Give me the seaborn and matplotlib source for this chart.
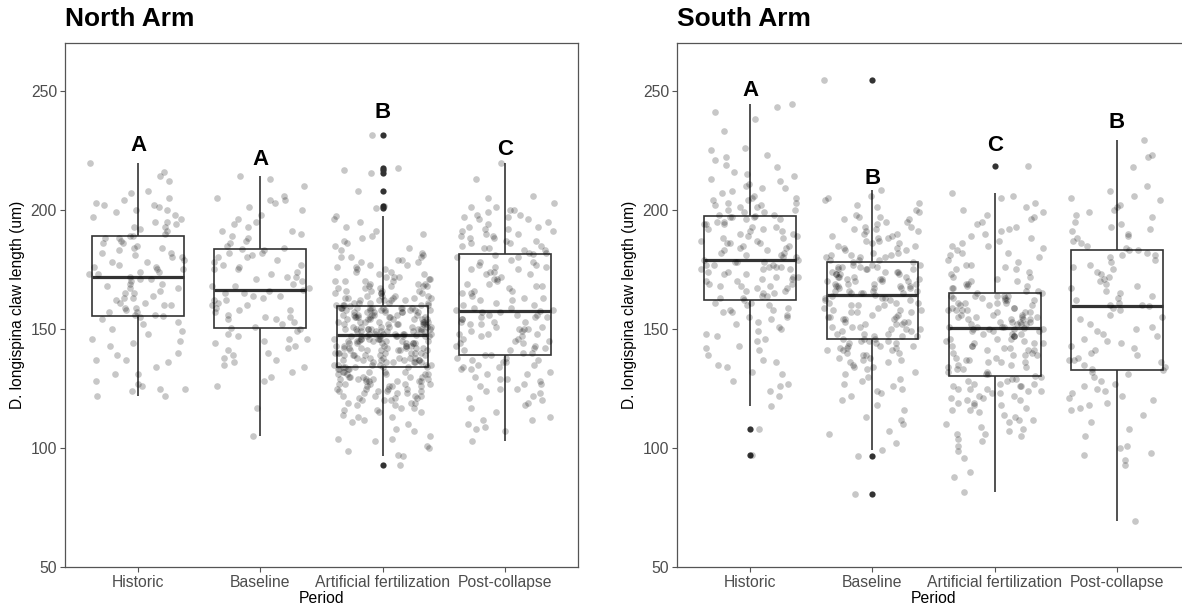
import numpy as np
import pandas as pd
import matplotlib
matplotlib.use("Agg")
import matplotlib.pyplot as plt
import seaborn as sns

periods = ["Historic", "Baseline", "Artificial fertilization", "Post-collapse"]

# ---------------- North Arm (claw length, um) ----------------
north_historic = [
    121.7, 122, 124, 125, 125, 126, 127, 128, 131, 131, 134, 136, 137, 137, 139, 140, 143, 144,
    145, 146, 148, 149, 150, 152, 153, 154, 155,
    155.5,
    156, 156, 157, 157, 158, 159, 159, 160, 160, 161, 161, 162, 163, 163, 164, 165, 165, 166,
    167, 167, 168, 169, 169, 170, 171, 171,
    172.0,
    173, 173, 174, 174, 175, 175, 176, 176, 177, 178, 178, 179, 180, 180, 181, 182, 182, 183,
    184, 184, 185, 186, 186, 187, 188, 188,
    188.9,
    189, 190, 191, 192, 193, 193, 194, 195, 195, 196, 197, 198, 199, 200, 200, 201, 202, 202,
    203, 204, 205, 207, 208, 214, 212, 216, 219.7,
]
north_baseline = [
    105.2, 117, 126, 128, 130, 132, 134, 135, 136, 137, 138, 139, 140, 141, 142, 143, 144, 145,
    146, 146, 147, 148, 149, 150,
    150.4,
    151, 152, 153, 154, 154, 155, 155, 156, 157, 158, 158, 159, 160, 160, 161, 162, 162, 163,
    164, 164, 165, 165, 166,
    166.5,
    167, 168, 168, 169, 170, 171, 172, 172, 173, 174, 175, 175, 176, 177, 177, 178, 179, 180,
    180, 181, 182, 182, 183,
    183.6,
    184, 185, 186, 187, 188, 189, 190, 191, 191, 193, 194, 195, 196, 198, 200, 201, 203, 204,
    204, 205, 206, 210, 213, 214.4,
]
north_artificial = [
    93.0, 96.8, 97, 99, 100, 101, 103, 104, 104, 105, 107, 108,
    110, 111, 112, 113, 113, 114, 115, 115, 116, 116, 117, 117, 118, 118, 119, 119, 119, 120,
    120, 120, 121, 121, 121, 122, 122, 122, 122, 123, 123, 123,
    124, 124, 124, 124, 125, 125, 125, 125, 126, 126, 126, 126, 127, 127, 127, 127, 127, 128,
    128, 128, 128, 128, 129, 129, 129, 129, 129, 130, 130, 130, 130, 130, 131, 131, 131, 131,
    131, 132, 132, 132, 132, 132, 133, 133, 133, 133, 134, 134,
    134.0,
    134, 134, 134, 135, 135, 135, 135, 135, 135, 136, 136, 136, 136, 136, 136, 137, 137, 137,
    137, 137, 137, 138, 138, 138, 138, 138, 138, 139, 139, 139, 139, 139, 139, 140, 140, 140,
    140, 140, 140, 140, 141, 141, 141, 141, 141, 141, 142, 142, 142, 142, 142, 142, 142, 143,
    143, 143, 143, 143, 143, 144, 144, 144, 144, 144, 144, 144, 145, 145, 145, 145, 145, 145,
    145, 146, 146, 146, 146, 146, 146, 146, 147, 147, 147, 147, 147, 147, 147, 147, 147,
    147.3,
    148, 148, 148, 148, 148, 148, 148, 149, 149, 149, 149, 149, 149, 149, 149, 150, 150, 150,
    150, 150, 150, 150, 150, 151, 151, 151, 151, 151, 151, 151, 152, 152, 152, 152, 152, 152,
    152, 153, 153, 153, 153, 153, 153, 153, 154, 154, 154, 154, 154, 154, 154, 155, 155, 155,
    155, 155, 155, 155, 156, 156, 156, 156, 156, 156, 156, 157, 157, 157, 157, 157, 157, 157,
    158, 158, 158, 158, 158, 158, 158, 159, 159, 159, 159, 159, 159, 159, 159, 159, 159,
    159.5,
    160, 160, 160, 160, 160, 161, 161, 161, 161, 161, 162, 162, 162, 162, 162, 163, 163, 163,
    163, 163, 164, 164, 164, 164, 165, 165, 165, 165, 166, 166, 166, 166, 167, 167, 167, 168,
    168, 168, 168, 169, 169, 169, 170, 170, 170, 170,
    171, 171, 172, 172, 172, 173, 173, 174, 174, 175, 175, 176, 176, 177, 177, 178, 178, 179,
    179, 180, 180, 180, 181, 182,
    183, 184, 185, 186, 187, 188, 189, 190, 191, 193, 195, 196, 197.3,
    200.8, 201.8, 208.1, 215.5, 216.6, 217.6, 231.6,
]
north_post = [
    103.2, 107, 108, 109, 110, 112, 112, 113, 115, 117, 118, 119, 120, 121, 122, 123, 124, 125,
    125, 126, 127, 127, 128, 129, 129, 130, 131, 131, 132, 133, 133, 134, 134, 135, 135, 136,
    136, 137, 137, 138, 138, 139,
    139.1,
    140, 140, 141, 141, 142, 142, 143, 143, 144, 144, 145, 145, 146, 146, 147, 147, 148, 148,
    148, 149, 149, 150, 150, 150, 151, 151, 152, 152, 153, 153, 153, 154, 154, 155, 155, 155,
    156, 156, 156, 157, 157,
    157.6,
    158, 158, 159, 159, 160, 160, 161, 162, 162, 163, 163, 164, 165, 165, 166, 166, 167, 168,
    168, 169, 169, 170, 171, 171, 172, 173, 173, 174, 174, 175, 175, 176, 176, 177, 177, 178,
    178, 179, 180, 180, 181,
    181.6,
    182, 182, 183, 183, 184, 184, 185, 185, 186, 186, 187, 187, 188, 188, 189, 189, 190, 190,
    191, 191, 192, 192, 193, 193, 194, 195, 196, 196, 197, 197, 198, 198, 199, 200, 200, 201,
    201, 203, 205, 206, 213, 219.5,
]

# ---------------- South Arm (claw length, um) ----------------
south_historic = [
    97.2, 108.0, 117.8, 122, 124, 126, 127, 128, 131, 132, 134, 135, 136, 137, 139, 141, 142,
    143, 145, 146, 147, 148, 149, 150, 151, 152, 153, 154, 155, 155, 156, 157, 157, 158, 158,
    159, 160, 160, 161, 161,
    162.0,
    163, 163, 164, 164, 165, 165, 166, 166, 167, 167, 168, 168, 168, 169, 169, 170, 170, 171,
    171, 172, 172, 172, 173, 173, 174, 174, 175, 175, 175, 176, 176, 176, 177, 177, 177, 178,
    178, 178, 179,
    179.0,
    180, 180, 181, 181, 182, 182, 183, 183, 184, 184, 185, 185, 186, 186, 186, 187, 187, 188,
    188, 189, 189, 190, 190, 191, 191, 192, 192, 193, 193, 194, 194, 194, 195, 195, 196, 196,
    197, 197, 197,
    197.6,
    198, 198, 199, 199, 200, 200, 201, 201, 202, 202, 203, 203, 204, 204, 205, 205, 206, 207,
    208, 209, 209, 210, 211, 212, 213, 214, 215, 216, 218, 219, 221, 222, 223, 225, 226, 233,
    238, 241, 243, 244.5,
]
south_baseline = [
    80.8, 96.8, 99.3, 102, 106, 107, 110, 112, 113, 116, 118, 120, 122, 123, 124, 125, 126,
    127, 128, 129, 130, 131, 132, 133, 134, 134, 135, 136, 136, 137, 137, 138, 138, 139, 139,
    140, 140, 141, 141, 141, 142, 142, 142, 143, 143, 143, 144, 144, 144, 145, 145, 145,
    145.8,
    146, 146, 147, 147, 147, 148, 148, 148, 149, 149, 150, 150, 150, 151, 151, 151, 152, 152,
    152, 153, 153, 153, 154, 154, 154, 155, 155, 155, 156, 156, 157, 157, 157, 158, 158, 158,
    159, 159, 160, 160, 160, 161, 161, 161, 162, 162, 162, 163, 163, 163, 164,
    164.3,
    165, 165, 165, 165, 166, 166, 166, 166, 167, 167, 167, 167, 168, 168, 168, 168, 169, 169,
    169, 169, 170, 170, 170, 170, 171, 171, 171, 171, 172, 172, 172, 172, 173, 173, 173, 173,
    174, 174, 174, 174, 175, 175, 175, 175, 176, 176, 176, 176, 177, 177, 177,
    178.0,
    178, 179, 179, 179, 180, 180, 180, 181, 181, 181, 182, 182, 183, 183, 184, 184, 185, 185,
    186, 186, 187, 187, 188, 188, 189, 189, 190, 190, 191, 191, 192, 192, 193, 193, 194, 195,
    195, 196, 196, 197, 197, 198, 199, 200, 201, 202, 203, 204, 205, 206, 208.2, 254.4,
]
south_artificial = [
    81.8, 88, 90, 96, 99, 101, 103, 104, 105, 106, 106, 107, 108, 109, 110, 111, 112, 112, 113,
    114, 115, 116, 116, 117, 118, 118, 119, 119, 120, 120, 121, 121, 122, 122, 123, 123, 124,
    124, 125, 125, 125, 126, 126, 126, 127, 127, 127, 128, 128, 129, 129, 130,
    130.1,
    131, 131, 132, 132, 133, 133, 134, 134, 135, 135, 136, 136, 136, 137, 137, 138, 138, 139,
    139, 139, 140, 140, 141, 141, 141, 142, 142, 143, 143, 143, 144, 144, 144, 145, 145, 146,
    146, 146, 147, 147, 147, 148, 148, 148, 149, 149, 149, 150, 150, 150, 150,
    150.5,
    151, 151, 151, 151, 152, 152, 152, 152, 153, 153, 153, 153, 154, 154, 154, 154, 155, 155,
    155, 155, 156, 156, 156, 157, 157, 157, 158, 158, 158, 158, 159, 159, 159, 160, 160, 160,
    161, 161, 161, 161, 162, 162, 162, 163, 163, 163, 164, 164, 164, 164, 164,
    165.0,
    165, 166, 166, 167, 167, 168, 168, 169, 169, 170, 170, 171, 172, 172, 173, 174, 175, 175,
    176, 177, 177, 178, 179, 180, 181, 182, 182, 183, 184, 185, 185, 186, 187, 188, 189, 190,
    191, 192, 193, 194, 195, 196, 197, 198, 199, 200, 201, 203, 205, 206, 207.1, 218.2,
]
south_post = [
    69.6, 93, 95, 97, 98, 100, 101, 105, 108, 111, 114, 116, 117, 118, 119, 120, 121, 122, 123,
    124, 125, 126, 127, 128, 130, 131, 132,
    132.9,
    133, 134, 135, 136, 137, 137, 138, 139, 140, 141, 142, 143, 144, 145, 146, 147, 148, 149,
    150, 151, 152, 154, 155, 156, 158, 159,
    159.5,
    160, 160, 161, 162, 163, 164, 165, 166, 167, 168, 169, 170, 171, 172, 173, 174, 175, 176,
    177, 178, 179, 180, 181, 181, 182, 183,
    183.3,
    184, 185, 186, 187, 188, 189, 190, 191, 192, 193, 194, 195, 197, 198, 199, 200, 201, 202,
    204, 205, 206, 208, 210, 218, 222, 223, 229.1,
]

# significance letters and the height (um) where each is written
north_letters = ["A", "A", "B", "C"]
north_letter_y = [224.6, 219.0, 238.7, 223.2]
south_letters = ["A", "B", "C", "B"]
south_letter_y = [247.7, 211.0, 224.6, 234.4]


def frame(groups):
    return pd.DataFrame({
        "Period": np.repeat(periods, [len(g) for g in groups]),
        "Length": np.concatenate([np.asarray(g, float) for g in groups]),
    })


north_df = frame([north_historic, north_baseline, north_artificial, north_post])
south_df = frame([south_historic, south_baseline, south_artificial, south_post])

sns.set_theme(style="white")
plt.rcParams["font.family"] = ["Liberation Sans", "DejaVu Sans"]

W, H = 1182, 608
fig = plt.figure(figsize=(W / 100, H / 100), dpi=100)
ax_bottom = (H - 567.3) / H
ax_height = (567.3 - 43) / H
ax_width = 513.6 / W
axN = fig.add_axes([64.7 / W, ax_bottom, ax_width, ax_height])
axS = fig.add_axes([676.7 / W, ax_bottom, ax_width, ax_height])

line_c = "#333333"
np.random.seed(7)


def panel(ax, df, letters, letter_y, title):
    sns.boxplot(data=df, x="Period", y="Length", order=periods, ax=ax, width=0.75,
                whis=1.5, color="white", linecolor=line_c, linewidth=1.2, saturation=1,
                showcaps=False,
                medianprops=dict(linewidth=2.3, color=line_c),
                flierprops=dict(marker="o", markersize=4.5, markerfacecolor=line_c,
                                markeredgecolor="none"))
    sns.stripplot(data=df, x="Period", y="Length", order=periods, ax=ax, jitter=0.4,
                  color="black", alpha=0.22, size=4.8, linewidth=0, zorder=4)
    for i, (lab, yv) in enumerate(zip(letters, letter_y)):
        ax.text(i, yv, lab, ha="center", va="baseline", fontsize=16,
                fontweight="bold", color="black")
    ax.set_xlim(-0.6, 3.6)
    ax.set_ylim(50, 270)
    ax.set_yticks([50, 100, 150, 200, 250])
    for s in ax.spines.values():
        s.set_visible(True)
        s.set_color("#555555")
        s.set_linewidth(0.9)
    ax.tick_params(axis="both", direction="out", length=3.5, width=0.8, color="#555555",
                   labelcolor="#4d4d4d", labelsize=11.3, pad=2, bottom=True, left=True)
    ax.set_xlabel("Period", fontsize=11.3, color="black", labelpad=1)
    ax.set_ylabel("D. longispina claw length (um)", fontsize=11.2, color="black", labelpad=4)
    ax.set_title(title, loc="left", fontsize=19, fontweight="bold", pad=12, color="black")


panel(axN, north_df, north_letters, north_letter_y, "North Arm")
panel(axS, south_df, south_letters, south_letter_y, "South Arm")

fig.savefig("out.png", dpi=100)
